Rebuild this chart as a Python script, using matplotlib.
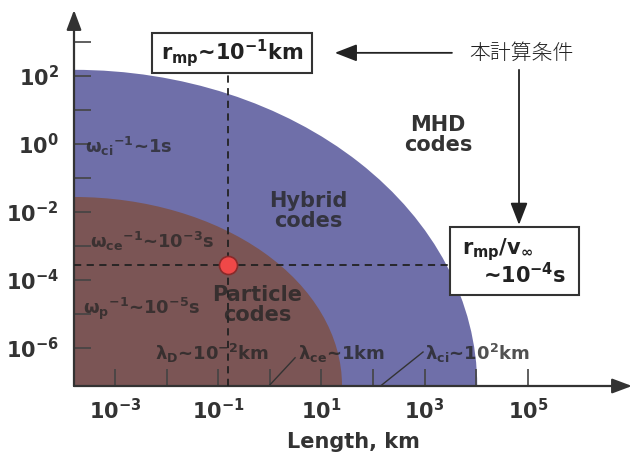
import matplotlib
matplotlib.use("Agg")
import matplotlib.pyplot as plt
from matplotlib.patches import Ellipse, Rectangle

plt.rcParams['font.family'] = ['DejaVu Sans']
plt.rcParams['mathtext.fontset'] = 'dejavusans'
plt.rcParams['mathtext.default'] = 'bf'

# ---- data (log10 exponents) ----
x_lim_exp = [-3.795, 7.02]
y_lim_exp = [-7.12, 3.94]
x_tick_exp = [-3, -2, -1, 0, 1, 2, 3, 4, 5]
x_label_exp = [-3, -1, 1, 3, 5]
y_tick_exp = [-6, -5, -4, -3, -2, -1, 0, 1, 2, 3]
y_label_exp = [-6, -4, -2, 0, 2]

region_names = ['Hybrid\ncodes', 'Particle\ncodes']
region_xmax_exp = [4.02, 1.40]
region_ymax_exp = [2.18, -1.56]
region_colors = ['#6f6fa9', '#7b5555']
region_label_pos = [(0.74, -1.97), (-0.25, -4.74)]

rmp_exp = -0.81       # r_mp ~ 10^-1 km
tflow_exp = -3.56     # r_mp / v_inf ~ 10^-4 s

freq_labels = [r'$\omega_{ci}$$^{-1}$~1s', r'$\omega_{ce}$$^{-1}$~10$^{-3}$s', r'$\omega_{p}$$^{-1}$~10$^{-5}$s']
freq_pos = [(-3.58, -0.06), (-3.48, -2.88), (-3.62, -4.85)]
len_labels = [r'$\lambda_{D}$~10$^{-2}$km', r'$\lambda_{ce}$~1km', r'$\lambda_{ci}$~10$^{2}$km']
len_pos = [(-2.22, -6.15), (0.55, -6.15), (3.01, -6.15)]

W, H = 635, 454
fig = plt.figure(figsize=(W / 100, H / 100), dpi=100)
L, R, B, T = 74 / W, 632 / W, 1 - 386 / H, 1 - 10 / H
rect = [L, B, R - L, T - B]

# background axes in log10 units for the region shapes
axb = fig.add_axes(rect, zorder=0)
axb.set_xlim(x_lim_exp)
axb.set_ylim(y_lim_exp)
axb.axis('off')
x0, y0 = x_lim_exp[0], y_lim_exp[0]
for xm, ym, c in zip(region_xmax_exp, region_ymax_exp, region_colors):
    e = Ellipse((x0, y0), 2 * (xm - x0), 2 * (ym - y0), facecolor=c, edgecolor='none')
    axb.add_patch(e)
    e.set_clip_path(axb.patch)

ax = fig.add_axes(rect, zorder=1)
ax.patch.set_alpha(0)
ax.set_xscale('log')
ax.set_yscale('log')
ax.set_xlim(10.0 ** x_lim_exp[0], 10.0 ** x_lim_exp[1])
ax.set_ylim(10.0 ** y_lim_exp[0], 10.0 ** y_lim_exp[1])
for s in ax.spines.values():
    s.set_visible(False)

ax.set_xticks([10.0 ** e for e in x_tick_exp])
ax.set_xticklabels([(r'$10^{%d}$' % e) if e in x_label_exp else '' for e in x_tick_exp])
ax.set_yticks([10.0 ** e for e in y_tick_exp])
ax.set_yticklabels([(r'$10^{%d}$' % e) if e in y_label_exp else '' for e in y_tick_exp])
ax.minorticks_off()
ax.tick_params(which='major', direction='in', length=12, width=1.2, color='#444',
               labelsize=15, labelcolor='#333')
ax.tick_params(axis='x', pad=9)
ax.tick_params(axis='y', pad=11)

ax.set_xlabel('Length, km', fontsize=15, fontweight='bold', color='#333', labelpad=6)

# axis arrows
ap = dict(arrowstyle='-|>,head_length=0.8,head_width=0.3', color='#333', lw=1.6,
          shrinkA=0, shrinkB=0, mutation_scale=15)
ax.annotate('', xy=(1, 0), xytext=(0, 0), xycoords='axes fraction', arrowprops=ap, annotation_clip=False)
ax.annotate('', xy=(0, 1), xytext=(0, 0), xycoords='axes fraction', arrowprops=ap, annotation_clip=False)

# dashed guide lines and the computation point
ax.plot([10.0 ** rmp_exp] * 2, [10.0 ** y_lim_exp[0], 10.0 ** 2.1], color='#222', lw=1.3, dashes=(4, 3), zorder=3)
ax.plot([10.0 ** x_lim_exp[0], 10.0 ** 3.49], [10.0 ** tflow_exp] * 2, color='#222', lw=1.3, dashes=(4, 3), zorder=3)
ax.plot([10.0 ** rmp_exp], [10.0 ** tflow_exp], 'o', ms=13, mfc='#f04848', mec='#8a2a2a', mew=1.2, zorder=5)

# region labels
for name, (px, py) in zip(region_names, region_label_pos):
    ax.text(10.0 ** px, 10.0 ** py, name, ha='center', va='center', fontsize=15, fontweight='bold',
            color='#262626', alpha=0.8, linespacing=1.05, zorder=4)
ax.text(10.0 ** 3.26, 10.0 ** 0.265, 'MHD\ncodes', ha='center', va='center', fontsize=15,
        fontweight='bold', color='#333', linespacing=1.05, zorder=4)

for lab, (px, py) in zip(freq_labels, freq_pos):
    ax.text(10.0 ** px, 10.0 ** py, lab, ha='left', va='center', fontsize=13, fontweight='bold',
            color='#262626', alpha=0.75, zorder=4)
for lab, (px, py) in zip(len_labels, len_pos):
    ax.text(10.0 ** px, 10.0 ** py, lab, ha='left', va='center', fontsize=13, fontweight='bold',
            color='#262626', alpha=0.8, zorder=4)
# pointer lines for lambda labels
ax.plot([10.0 ** 0.0, 10.0 ** 0.49], [10.0 ** -7.09, 10.0 ** -6.29], color='#333', lw=1.0, zorder=4)
ax.plot([10.0 ** 2.17, 10.0 ** 2.97], [10.0 ** -7.09, 10.0 ** -6.12], color='#333', lw=1.0, zorder=4)

# boxes
ax.add_patch(Rectangle((10.0 ** -2.283, 10.0 ** 2.088), 10.0 ** 0.818 - 10.0 ** -2.283,
                       10.0 ** 3.265 - 10.0 ** 2.088, facecolor='white', edgecolor='#333', lw=1.5,
                       zorder=6, clip_on=False))
ax.text(10.0 ** -0.733, 10.0 ** 2.68, r'r$_{mp}$~10$^{-1}$km', ha='center', va='center', fontsize=15,
        fontweight='bold', color='#222', zorder=7)
ax.add_patch(Rectangle((10.0 ** 3.49, 10.0 ** -4.44), 10.0 ** 5.99 - 10.0 ** 3.49,
                       10.0 ** -2.44 - 10.0 ** -4.44, facecolor='white', edgecolor='#333', lw=1.5,
                       zorder=6, clip_on=False))
ax.text(10.0 ** 3.72, 10.0 ** -3.12, r'r$_{mp}$/v$_{\infty}$', ha='left', va='center', fontsize=15,
        fontweight='bold', color='#222', zorder=7)
ax.text(10.0 ** 4.13, 10.0 ** -3.85, r'~10$^{-4}$s', ha='left', va='center', fontsize=15,
        fontweight='bold', color='#222', zorder=7)

# Japanese note and arrows
ax.text(10.0 ** 4.87, 10.0 ** 2.68, '本計算条件', ha='center', va='center', fontsize=15,
        family=['Noto Sans CJK JP', 'DejaVu Sans'], fontweight='light', color='#222', zorder=7)
ap2 = dict(arrowstyle='-|>,head_length=0.9,head_width=0.35', color='#222', lw=1.3,
           shrinkA=0, shrinkB=0, mutation_scale=15)
ax.annotate('', xy=(10.0 ** 1.26, 10.0 ** 2.68), xytext=(10.0 ** 3.53, 10.0 ** 2.68), arrowprops=ap2,
            annotation_clip=False, zorder=7)
ax.annotate('', xy=(10.0 ** 4.83, 10.0 ** -2.38), xytext=(10.0 ** 4.83, 10.0 ** 2.18), arrowprops=ap2,
            annotation_clip=False, zorder=7)

fig.savefig('out.png', dpi=100, facecolor='white')
